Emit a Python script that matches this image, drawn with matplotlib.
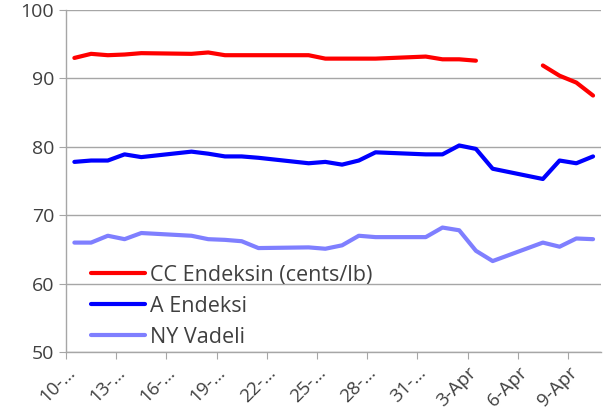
import numpy as np
import pandas as pd
import matplotlib
matplotlib.use('Agg')
import matplotlib.pyplot as plt

# trading days, Mar 10 - Apr 10
dates = ['2025-03-10', '2025-03-11', '2025-03-12', '2025-03-13', '2025-03-14',
         '2025-03-17', '2025-03-18', '2025-03-19', '2025-03-20', '2025-03-21',
         '2025-03-24', '2025-03-25', '2025-03-26', '2025-03-27', '2025-03-28',
         '2025-03-31', '2025-04-01', '2025-04-02', '2025-04-03', '2025-04-04',
         '2025-04-07', '2025-04-08', '2025-04-09', '2025-04-10']
cc_endeksin = [93.0, 93.6, 93.4, 93.5, 93.7, 93.6, 93.8, 93.4, 93.4, 93.4,
               93.4, 92.9, 92.9, 92.9, 92.9, 93.2, 92.8, 92.8, 92.6, np.nan,
               91.9, 90.4, 89.4, 87.5]
a_endeksi = [77.8, 78.0, 78.0, 78.9, 78.5, 79.3, 79.0, 78.6, 78.6, 78.4,
             77.6, 77.8, 77.4, 78.0, 79.2, 78.9, 78.9, 80.2, 79.7, 76.8,
             75.3, 78.0, 77.6, 78.6]
ny_vadeli = [66.0, 66.0, 67.0, 66.5, 67.4, 67.0, 66.5, 66.4, 66.2, 65.2,
             65.3, 65.1, 65.6, 67.0, 66.8, 66.8, 68.2, 67.8, 64.8, 63.3,
             66.0, 65.4, 66.6, 66.5]
tick_labels = ['10-…', '13-…', '16-…', '19-…', '22-…', '25-…', '28-…', '31-…',
               '3-Apr', '6-Apr', '9-Apr']

d = pd.to_datetime(dates)
days = np.array((d - d[0]).days)

plt.rcParams['font.family'] = ['Open Sans', 'DejaVu Sans']
fig = plt.figure(figsize=(6.14, 4.16), dpi=100)
ax = fig.add_axes([0.1075, 0.1538, 0.872, 0.822])

ax.plot(days, cc_endeksin, color='#FF0000', lw=3, label='CC Endeksin (cents/lb)', solid_capstyle='round')
ax.plot(days, a_endeksi, color='#0000FF', lw=3, label='A Endeksi', solid_capstyle='round')
ax.plot(days, ny_vadeli, color='#7F7FFF', lw=3, label='NY Vadeli', solid_capstyle='round')

ax.set_ylim(50, 100)
ax.set_yticks([50, 60, 70, 80, 90, 100])
ax.set_xlim(-0.5, 31.5)
ax.set_xticks(np.arange(0, 31, 3) - 0.5)
ax.set_xticklabels(tick_labels, rotation=45, ha='right', rotation_mode='anchor')

ax.grid(axis='y', color='#A6A6A6', lw=1)
ax.set_axisbelow(True)
for s in ['top', 'right']:
    ax.spines[s].set_visible(False)
for s in ['left', 'bottom']:
    ax.spines[s].set_color('#A6A6A6')
    ax.spines[s].set_linewidth(1)
ax.tick_params(axis='y', labelsize=14, colors='#A6A6A6', labelcolor='#404040', length=5)
ax.tick_params(axis='x', labelsize=13.5, colors='#A6A6A6', labelcolor='#404040', length=5)

ax.legend(loc='lower left', bbox_to_anchor=(0.031, -0.012), frameon=False, fontsize=15.5,
          handlelength=2.5, handletextpad=0.25, labelcolor='#404040', labelspacing=0.46,
          borderaxespad=0.0)

fig.savefig('out.png', dpi=100)
